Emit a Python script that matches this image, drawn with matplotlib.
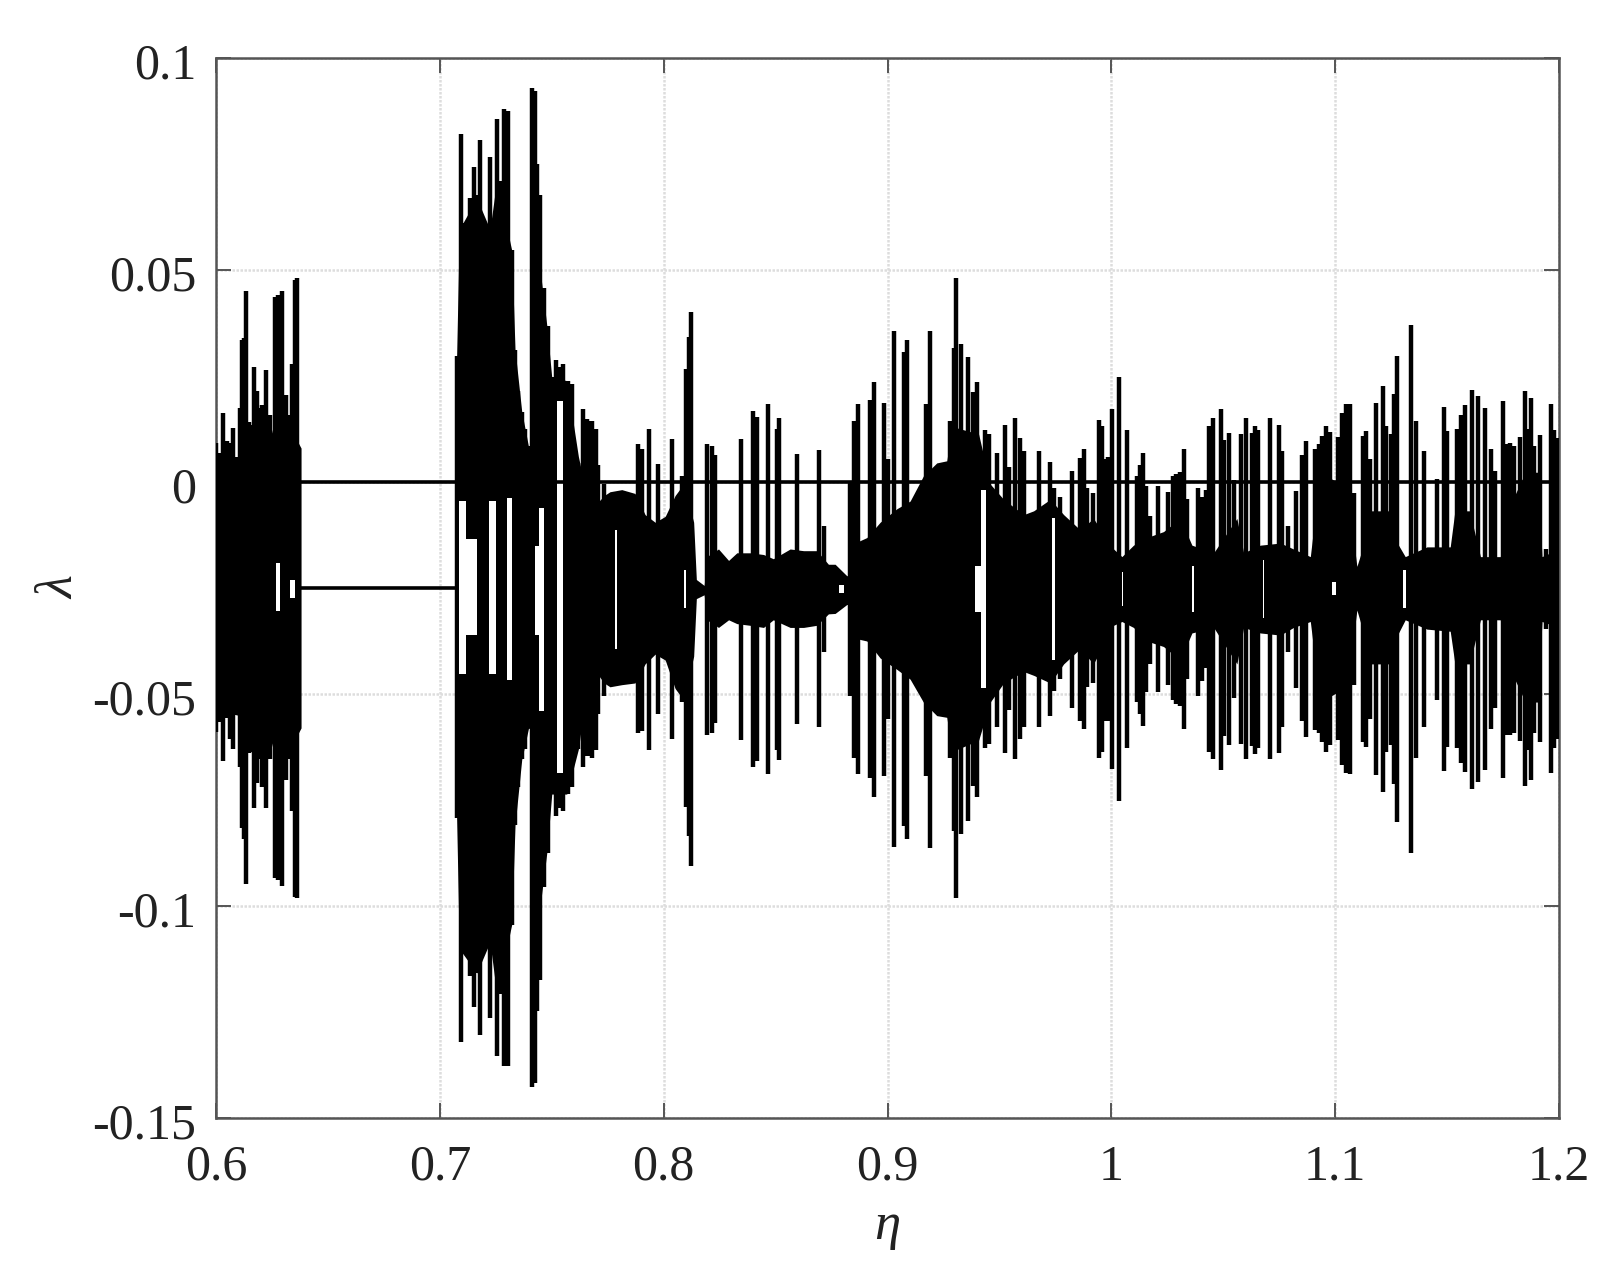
import matplotlib
matplotlib.use('Agg')
import matplotlib.pyplot as plt
from matplotlib.transforms import ScaledTranslation

# spikes: position, top, bottom
spike_eta = [
    .6000, .6013, .6030, .6048, .6063, .6078, .6092, .6107, .6118, .6127, .6136, .6149, .6170,
    .6185, .6197, .6207, .6222, .6241, .6262, .6276, .6293, .6313, .6323, .6341, .6353, .6363,
    .7075, .7095, .7113, .7135, .7154, .7165, .7180, .7195, .7206, .7224, .7239, .7256, .7269,
    .7287, .7303, .7321, .7336, .7351, .7366, .7381, .7396, .7412, .7424, .7436, .7448, .7467,
    .7482, .7500, .7519, .7534, .7552, .7571, .7592, .7619, .7638, .7656, .7674,
    .7678, .7698, .7708, .7734, .7887, .7905, .7936, .7976, .8036, .8081, .8100, .8112, .8122,
    .8195, .8215, .8230, .8346, .8401, .8417, .8465, .8505, .8517, .8595, .8696, .8718, .8833,
    .8851, .8869, .8923, .8938, .8985, .9002, .9028, .9075, .9088, .9173, .9191, .9280, .9295,
    .9305, .9329, .9359, .9382, .9399, .9437, .9452, .9489, .9526, .9541, .9571, .9590, .9608,
    .9675, .9727, .9745, .9772, .9824, .9861, .9879,
    .9893, .9917, .9943, .9957, .9972, .9987, 1.0002, 1.0033, 1.0071, 1.0114, 1.0129, 1.0141,
    1.0154, 1.0171, 1.0208, 1.0251, 1.0275, 1.0290, 1.0305, 1.0323, 1.0340, 1.0385, 1.0404,
    1.0424, 1.0437, 1.0454, 1.0488, 1.0504, 1.0524, 1.0546, 1.0579, 1.0600, 1.0628, 1.0643,
    1.0655, 1.0710, 1.0750, 1.0762, 1.0790, 1.0825, 1.0854, 1.0869, 1.0911, 1.0926, 1.0941,
    1.0959, 1.0978, 1.1011, 1.1030, 1.1048, 1.1065, 1.1085, 1.1124, 1.1139, 1.1154, 1.1181,
    1.1215, 1.1227, 1.1248, 1.1261, 1.1278, 1.1340, 1.1363, 1.1395, 1.1455, 1.1488, 1.1500,
    1.1544, 1.1562, 1.1579, 1.1613, 1.1637, 1.1669, 1.1698, 1.1713, 1.1748, 1.1768, 1.1783,
    1.1801, 1.1827, 1.1847, 1.1860, 1.1875, 1.1890, 1.1914, 1.1944, 1.1963, 1.1978, 1.1996,
]
spike_top = [
    .0093, .0068, .0162, .0096, .0093, .0128, .0060, .0174, .0336, .0339, .0450, .0141, .0271,
    .0214, .0174, .0182, .0263, .0158, .0437, .0442, .0450, .0206, .0158, .0279, .0477, .0482,
    .0296, .0820, .0612, .0669, .0742, .0677, .0807, .0539, .0499, .0767, .0588, .0856, .0710,
    .0880, .0875, .0547, .0312, .0214, .0166, .0125, .0084, .0929, .0921, .0750, .0677, .0458,
    .0369, .0247, .0287, .0271, .0279, .0239, .0231, .0044, .0171, .0149, .0145,
    .0144, .0126, .0041, -.0005, .0090, .0077, .0126, .0042, .0102, .0014, .0266, .0343, .0402,
    .0090, .0086, .0063, .0102, .0167, .0153, .0183, .0125, .0151, .0066, .0075, -.0104, .0000,
    .0144, .0183, .0194, .0237, .0187, .0054, .0355, .0307, .0334, .0185, .0356, .0144, .0316,
    .0481, .0325, .0295, .0212, .0237, .0122, .0113, .0068, .0134, .0036, .0152, .0104, .0072,
    .0072, .0048, -.0014, -.0036, .0027, .0057, .0077,
    -.0014, -.0027, .0147, .0131, .0054, .0059, .0171, .0248, .0122, .0014, .0041, .0069,
    -.0009, -.0081, -.0009, -.0023, .0014, .0018, .0023, .0079, -.0041, -.0014, -.0036,
    -.0018, .0133, .0151, .0173, .0099, .0115, .0005, .0113, .0151, .0116, .0133,
    .0122, .0151, .0134, .0072, -.0104, -.0021, .0063, .0097, .0079, .0090, .0108,
    .0131, .0117, .0106, .0162, .0183, .0185, -.0027, .0108, .0120, .0054, .0187,
    .0226, .0133, .0113, .0208, .0298, .0370, .0144, .0072, .0007, .0176, .0120,
    .0125, .0158, .0181, .0218, .0203, .0174, .0077, .0027, .0191, .0090, .0093,
    .0086, .0106, .0214, .0126, .0199, .0086, .0110, -.0158, .0183, .0122, .0104,
]
spike_bot = [
    -.0590, -.0565, -.0659, -.0557, -.0606, -.0630, -.0549, -.0671, -.0817, -.0841, -.0947, -.0638, -.0768,
    -.0711, -.0654, -.0719, -.0768, -.0654, -.0935, -.0939, -.0952, -.0703, -.0654, -.0776, -.0979, -.0982,
    -.0792, -.1320, -.1109, -.1166, -.1239, -.1158, -.1304, -.1036, -.1004, -.1263, -.1093, -.1353, -.1207,
    -.1377, -.1377, -.1044, -.0809, -.0719, -.0654, -.0630, -.0581, -.1426, -.1418, -.1247, -.1174, -.0955,
    -.0874, -.0736, -.0788, -.0768, -.0776, -.0736, -.0719, -.0630, -.0671, -.0646, -.0646,
    -.0650, -.0632, -.0546, -.0505, -.0591, -.0587, -.0632, -.0548, -.0607, -.0519, -.0767, -.0835, -.0905,
    -.0597, -.0593, -.0569, -.0609, -.0672, -.0659, -.0688, -.0632, -.0656, -.0570, -.0579, -.0402, -.0505,
    -.0650, -.0688, -.0699, -.0742, -.0693, -.0560, -.0860, -.0812, -.0841, -.0693, -.0864, -.0650, -.0823,
    -.0981, -.0830, -.0799, -.0717, -.0742, -.0627, -.0618, -.0578, -.0639, -.0537, -.0654, -.0605, -.0578,
    -.0578, -.0551, -.0492, -.0465, -.0532, -.0564, -.0582,
    -.0483, -.0474, -.0650, -.0636, -.0563, -.0563, -.0677, -.0752, -.0627, -.0519, -.0546, -.0575,
    -.0496, -.0429, -.0496, -.0478, -.0514, -.0523, -.0528, -.0582, -.0465, -.0505, -.0469,
    -.0438, -.0636, -.0654, -.0679, -.0600, -.0620, -.0510, -.0618, -.0654, -.0623, -.0641,
    -.0627, -.0654, -.0638, -.0578, -.0402, -.0485, -.0564, -.0602, -.0584, -.0591, -.0614,
    -.0636, -.0620, -.0609, -.0668, -.0686, -.0689, -.0478, -.0614, -.0625, -.0560, -.0692,
    -.0731, -.0636, -.0620, -.0713, -.0803, -.0875, -.0650, -.0578, -.0514, -.0681, -.0625,
    -.0627, -.0663, -.0684, -.0725, -.0708, -.0680, -.0582, -.0532, -.0697, -.0596, -.0596,
    -.0591, -.0611, -.0717, -.0632, -.0704, -.0591, -.0614, -.0347, -.0686, -.0627, -.0607,
]

# solid body of the first burst
left_eta = [.6000, .6100, .6145, .6240, .6260, .6360, .6380]
left_top = [.0040, .0050, .0135, .0140, .0100, .0100, .0080]
left_bot = [-.0540, -.0550, -.0635, -.0640, -.0600, -.0600, -.0580]

# solid body from the second burst on
core_eta = [
    .7075, .7087, .7165, .7224, .7254, .7321, .7336, .7366, .7396, .7406, .7448, .7478, .7500, .7567, .7619,
    .7671, .7734, .7760, .7813, .7872, .7917, .7962, .8007, .8051, .8089, .8134, .8146, .8181, .8193, .8245,
    .8290, .8327, .8386, .8446, .8490, .8565, .8625, .8684, .8736, .8766, .8818, .8830, .8833, .8908, .8967,
    .9042, .9101, .9160, .9220, .9265, .9288, .9407, .9459, .9519, .9608, .9653, .9727, .9787, .9861,
    .9920, 1.0010, 1.0047, 1.0099, 1.0159, 1.0233, 1.0308, 1.0360, 1.0457, 1.0561, 1.0591, 1.0665, 1.0755,
    1.0814, 1.0889, 1.0933, 1.1053, 1.1097, 1.1127, 1.1160, 1.1250, 1.1283, 1.1313, 1.1410, 1.1514, 1.1535,
    1.1600, 1.1649, 1.1738, 1.1770, 1.1850, 1.1905, 1.1924, 1.2000,
]
core_top = [
    .0296, .0596, .0669, .0596, .0710, .0547, .0312, .0166, .0084, .0084, .0500, .0369, .0247, .0239, .0060,
    -.0068, -.0032, -.0023, -.0018, -.0027, -.0077, -.0095, -.0081, -.0032, -.0005, -.0095, -.0230, -.0244, -.0176, -.0158,
    -.0185, -.0167, -.0167, -.0171, -.0181, -.0158, -.0162, -.0162, -.0194, -.0194, -.0221, -.0221, -.0149, -.0131, -.0095,
    -.0063, -.0045, .0014, .0045, .0050, .0131, .0113, -.0005, -.0041, -.0077, -.0068, -.0041, -.0077, -.0113,
    -.0086, -.0158, -.0176, -.0149, -.0131, -.0117, -.0086, -.0149, -.0167, -.0086, -.0167, -.0149, -.0144,
    -.0158, -.0176, .0023, -.0014, -.0199, -.0149, -.0068, -.0068, -.0149, -.0176, -.0153, -.0153, -.0068,
    -.0068, -.0176, -.0176, -.0068, .0023, .0023, -.0176, -.0158,
]
core_bot = [
    -.0792, -.1101, -.1158, -.1085, -.1207, -.1044, -.0809, -.0654, -.0581, -.0581, -.1000, -.0874, -.0736, -.0736, -.0630,
    -.0429, -.0474, -.0483, -.0478, -.0474, -.0429, -.0406, -.0420, -.0487, -.0514, -.0411, -.0275, -.0266, -.0325, -.0343,
    -.0325, -.0334, -.0338, -.0343, -.0325, -.0343, -.0343, -.0338, -.0311, -.0310, -.0289, -.0289, -.0366, -.0375, -.0415,
    -.0442, -.0465, -.0519, -.0551, -.0555, -.0636, -.0609, -.0519, -.0474, -.0447, -.0456, -.0474, -.0429, -.0393,
    -.0429, -.0338, -.0329, -.0343, -.0375, -.0388, -.0420, -.0356, -.0343, -.0429, -.0343, -.0356, -.0361,
    -.0343, -.0329, -.0519, -.0483, -.0302, -.0356, -.0429, -.0429, -.0356, -.0325, -.0347, -.0352, -.0429,
    -.0429, -.0325, -.0325, -.0429, -.0519, -.0519, -.0329, -.0343,
]

# white windows inside the black band
gap_start = [.6268, .6331, .7087, .7115, .7221, .7302, .7425, .7445, .7525, .7783, .8093, .8783, .9393, .9416,
             .9733, 1.0047, 1.0361, 1.0677, 1.0986, 1.1303]
gap_end = [.6286, .6353, .7115, .7165, .7251, .7321, .7445, .7466, .7549, .7790, .8100, .8805, .9416, .9439,
           .9749, 1.0053, 1.0369, 1.0683, 1.1003, 1.1318]
gap_top = [-.0192, -.0232, -.0045, -.0135, -.0045, -.0037, -.0151, -.0062, .0190, -.0113, -.0208, -.0244, -.0199, -.0018,
           -.0086, -.0212, -.0199, -.0185, -.0235, -.0208]
gap_bot = [-.0305, -.0273, -.0453, -.0362, -.0453, -.0468, -.0362, -.0541, -.0687, -.0393, -.0298, -.0262, -.0307, -.0487,
           -.0420, -.0293, -.0307, -.0320, -.0266, -.0298]

# periodic branches
zero_eta = [.6380, 1.2000]
zero_val = [0.0, 0.0]
branch_eta = [.6380, .7075]
branch_val = [-.0250, -.0250]

x_ticks = [0.6, 0.7, 0.8, 0.9, 1.0, 1.1, 1.2]
x_labels = ['0.6', '0.7', '0.8', '0.9', '1', '1.1', '1.2']
y_ticks = [0.1, 0.05, 0, -0.05, -0.1, -0.15]
y_labels = ['0.1', '0.05', '0', '-0.05', '-0.1', '-0.15']

if __name__ == "__main__":
    plt.rcParams['font.family'] = ['Liberation Serif', 'DejaVu Serif']
    fig = plt.figure(figsize=(16.12, 12.67), dpi=100)
    ax = fig.add_axes([216 / 1612, (1267 - 1118) / 1267, 1343 / 1612, 1060 / 1267])

    ax.grid(True, color='#dddddd', linewidth=1.8, linestyle=(0, (1, 0.6)), zorder=0)
    ax.set_axisbelow(True)

    ax.fill_between(left_eta, left_top, left_bot, color='black', linewidth=0, zorder=2)
    ax.fill_between(core_eta, core_top, core_bot, color='black', linewidth=0, zorder=2)
    ax.vlines(spike_eta, spike_bot, spike_top, color='black', linewidth=3.2, zorder=3)
    for i in range(len(gap_start)):
        ax.fill_between([gap_start[i], gap_end[i]], [gap_top[i]] * 2, [gap_bot[i]] * 2,
                        color='white', linewidth=0, zorder=4)
    ax.plot(zero_eta, zero_val, color='black', linewidth=2.6, zorder=5)
    ax.plot(branch_eta, branch_val, color='black', linewidth=2.6, zorder=5)

    ax.set_xlim(0.6, 1.2)
    ax.set_ylim(-0.15, 0.1)
    ax.set_xticks(x_ticks)
    ax.set_xticklabels(x_labels)
    ax.set_yticks(y_ticks)
    ax.set_yticklabels(y_labels)
    ax.tick_params(direction='in', length=11, width=1.4, color='#555555', top=True, right=True,
                   labelsize=36, labelcolor='#222222')
    ax.tick_params(axis='x', pad=19)
    ax.tick_params(axis='y', pad=14)
    # y labels sit a little below their ticks in the original
    shift = ScaledTranslation(0, -2 / 72, fig.dpi_scale_trans)
    for lab in ax.get_yticklabels():
        lab.set_transform(lab.get_transform() + shift)
    for spine in ax.spines.values():
        spine.set_color('#555555')
        spine.set_linewidth(1.8)

    ax.set_xlabel('η', fontsize=38, style='italic', color='#222222', labelpad=8)
    ax.set_ylabel('λ', fontsize=38, style='italic', color='#222222', labelpad=6)

    fig.savefig('out.png', dpi=100)
    plt.close(fig)
